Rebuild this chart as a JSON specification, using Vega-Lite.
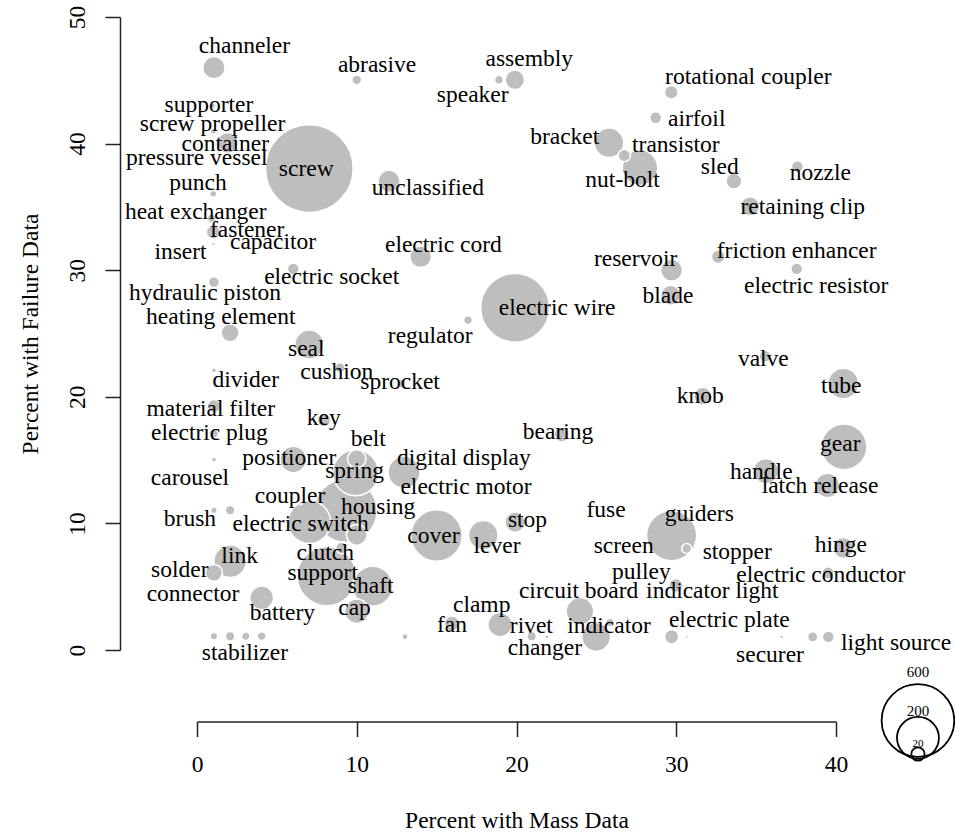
{
  "$schema": "https://vega.github.io/schema/vega-lite/v6.json",
  "width": 639,
  "height": 633,
  "autosize": {"type": "none"},
  "padding": {"left": 197, "top": 17, "right": 119, "bottom": 185},
  "background": "white",
  "config": {
    "view": {"stroke": null},
    "font": "Liberation Serif",
    "axis": {
      "grid": false,
      "domainColor": "#222222",
      "tickColor": "#222222",
      "domainWidth": 1.5,
      "tickWidth": 1.5,
      "tickSize": 15,
      "labelFont": "Liberation Serif",
      "labelFontSize": 23.5,
      "labelColor": "black",
      "titleFont": "Liberation Serif",
      "titleFontSize": 23.5,
      "titleFontWeight": "normal",
      "titleColor": "black",
      "labelFlush": false,
      "labelOverlap": false
    }
  },
  "datasets": {
    "parts": [
      {"name": "channeler", "x": 1.06, "y": 46.0, "v": 56, "lx": 2.97, "ly": 47.67},
      {"name": "abrasive", "x": 10.0, "y": 45.04, "v": 11, "lx": 11.27, "ly": 46.21},
      {"name": "speaker", "x": 18.9, "y": 45.04, "v": 9, "lx": 17.26, "ly": 43.8},
      {"name": "assembly", "x": 19.9, "y": 45.04, "v": 43, "lx": 20.8, "ly": 46.67},
      {"name": "rotational coupler", "x": 29.69, "y": 44.06, "v": 21, "lx": 34.51, "ly": 45.3},
      {"name": "airfoil", "x": 28.71, "y": 42.04, "v": 16, "lx": 31.28, "ly": 41.98},
      {"name": "bracket", "x": 25.79, "y": 40.06, "v": 99, "lx": 23.02, "ly": 40.56},
      {"name": "transistor", "x": 26.75, "y": 39.06, "v": 17.5, "lx": 29.97, "ly": 39.85},
      {"name": "nut-bolt", "x": 27.73, "y": 38.09, "v": 143, "lx": 26.64, "ly": 37.09},
      {"name": "sled", "x": 33.61, "y": 37.03, "v": 28, "lx": 32.72, "ly": 38.19},
      {"name": "nozzle", "x": 37.58, "y": 38.17, "v": 16, "lx": 39.02, "ly": 37.64},
      {"name": "retaining clip", "x": 34.62, "y": 35.05, "v": 41, "lx": 37.92, "ly": 34.99},
      {"name": "friction enhancer", "x": 32.63, "y": 31.06, "v": 21, "lx": 37.54, "ly": 31.48},
      {"name": "electric resistor", "x": 37.54, "y": 30.11, "v": 16, "lx": 38.76, "ly": 28.79},
      {"name": "reservoir", "x": 29.71, "y": 30.0, "v": 54, "lx": 27.46, "ly": 30.88},
      {"name": "blade", "x": 29.65, "y": 28.02, "v": 45, "lx": 29.48, "ly": 28.0},
      {"name": "electric wire", "x": 19.91, "y": 27.03, "v": 538, "lx": 22.54, "ly": 27.0},
      {"name": "regulator", "x": 16.96, "y": 26.05, "v": 9, "lx": 14.6, "ly": 24.84},
      {"name": "electric cord", "x": 14.0, "y": 31.06, "v": 53, "lx": 15.42, "ly": 32.03},
      {"name": "unclassified", "x": 12.02, "y": 37.03, "v": 56, "lx": 14.45, "ly": 36.53},
      {"name": "screw", "x": 7.03, "y": 38.03, "v": 875, "lx": 6.84, "ly": 38.03},
      {"name": "supporter", "x": 1.0, "y": 43.0, "v": 3, "lx": 0.75, "ly": 43.05},
      {"name": "screw propeller", "x": 1.02, "y": 40.98, "v": 4, "lx": 0.97, "ly": 41.55},
      {"name": "container", "x": 1.92, "y": 40.06, "v": 49, "lx": 1.77, "ly": 39.95},
      {"name": "pressure vessel", "x": 1.02, "y": 39.06, "v": 2.2, "lx": -0.02, "ly": 38.85},
      {"name": "punch", "x": 1.02, "y": 36.03, "v": 5.3, "lx": 0.06, "ly": 36.87},
      {"name": "heat exchanger", "x": 0.92, "y": 34.1, "v": 9, "lx": -0.08, "ly": 34.62},
      {"name": "fastener", "x": 1.02, "y": 33.0, "v": 32, "lx": 3.14, "ly": 33.16},
      {"x": 1.02, "y": 33.0, "v": 22},
      {"name": "capacitor", "x": 5.5, "y": 32.74, "v": 0.8, "lx": 4.76, "ly": 32.25},
      {"name": "insert", "x": 1.02, "y": 32.08, "v": 1.5, "lx": -1.03, "ly": 31.44},
      {"name": "electric socket", "x": 6.03, "y": 30.11, "v": 16, "lx": 8.43, "ly": 29.5},
      {"name": "hydraulic piston", "x": 1.06, "y": 29.05, "v": 13.7, "lx": 0.5, "ly": 28.22},
      {"name": "heating element", "x": 2.07, "y": 25.05, "v": 36, "lx": 1.49, "ly": 26.28},
      {"name": "seal", "x": 7.03, "y": 24.13, "v": 95, "lx": 6.84, "ly": 23.79},
      {"name": "divider", "x": 1.06, "y": 22.1, "v": 3, "lx": 3.05, "ly": 21.29},
      {"name": "cushion", "x": 8.95, "y": 22.29, "v": 12, "lx": 8.75, "ly": 21.92},
      {"name": "sprocket", "x": 12.81, "y": 21.05, "v": 8, "lx": 12.71, "ly": 21.15},
      {"name": "material filter", "x": 1.06, "y": 19.26, "v": 20, "lx": 0.86, "ly": 19.0},
      {"name": "electric plug", "x": 1.06, "y": 17.1, "v": 9, "lx": 0.78, "ly": 17.18},
      {"name": "key", "x": 7.95, "y": 18.15, "v": 20, "lx": 7.93, "ly": 18.29},
      {"name": "carousel", "x": 1.06, "y": 15.05, "v": 3, "lx": -0.44, "ly": 13.55},
      {"name": "belt", "x": 10.0, "y": 15.1, "v": 38, "lx": 10.72, "ly": 16.63},
      {"name": "spring", "x": 9.93, "y": 14.0, "v": 238, "lx": 9.86, "ly": 14.12},
      {"name": "positioner", "x": 6.03, "y": 15.05, "v": 80, "lx": 5.78, "ly": 15.13},
      {"name": "digital display", "x": 12.96, "y": 14.04, "v": 116, "lx": 16.7, "ly": 15.13},
      {"name": "electric motor", "x": 9.3, "y": 11.0, "v": 450, "lx": 16.84, "ly": 12.84},
      {"name": "coupler", "x": 6.5, "y": 11.6, "v": 1, "lx": 5.82, "ly": 12.15},
      {"name": "housing", "x": 10.0, "y": 9.1, "v": 49, "lx": 11.34, "ly": 11.26},
      {"name": "brush", "x": 1.06, "y": 11.04, "v": 5, "lx": -0.44, "ly": 10.33},
      {"x": 2.07, "y": 11.04, "v": 10},
      {"name": "electric switch", "x": 7.03, "y": 10.1, "v": 206, "lx": 6.49, "ly": 9.99},
      {"name": "cover", "x": 15.0, "y": 9.04, "v": 300, "lx": 14.8, "ly": 9.04},
      {"name": "lever", "x": 17.92, "y": 9.07, "v": 99, "lx": 18.78, "ly": 8.25},
      {"name": "stop", "x": 19.91, "y": 10.1, "v": 46, "lx": 20.69, "ly": 10.23},
      {"name": "fuse", "x": 25.6, "y": 11.0, "v": 1, "lx": 25.61, "ly": 11.02},
      {"name": "guiders", "x": 29.71, "y": 9.04, "v": 286, "lx": 31.44, "ly": 10.78},
      {"name": "screen", "x": 26.7, "y": 8.2, "v": 1, "lx": 26.71, "ly": 8.2},
      {"name": "stopper", "x": 30.65, "y": 8.02, "v": 11, "lx": 33.82, "ly": 7.72},
      {"name": "hinge", "x": 40.46, "y": 8.07, "v": 49, "lx": 40.3, "ly": 8.27},
      {"name": "electric conductor", "x": 39.5, "y": 6.1, "v": 16, "lx": 39.05, "ly": 5.9},
      {"name": "link", "x": 2.07, "y": 7.01, "v": 120, "lx": 2.67, "ly": 7.39},
      {"name": "clutch", "x": 9.05, "y": 8.07, "v": 16, "lx": 8.03, "ly": 7.68},
      {"name": "solder", "x": 1.06, "y": 6.1, "v": 32, "lx": -1.08, "ly": 6.33},
      {"name": "support", "x": 8.12, "y": 5.83, "v": 397, "lx": 7.87, "ly": 6.12},
      {"name": "shaft", "x": 11.0, "y": 5.04, "v": 181, "lx": 10.87, "ly": 5.02},
      {"name": "connector", "x": 0.5, "y": 4.5, "v": 1, "lx": -0.25, "ly": 4.46},
      {"name": "pulley", "x": 27.8, "y": 6.2, "v": 1, "lx": 27.81, "ly": 6.15},
      {"name": "circuit board", "x": 23.97, "y": 3.06, "v": 86, "lx": 23.89, "ly": 4.64},
      {"name": "indicator light", "x": 29.98, "y": 5.09, "v": 22, "lx": 32.26, "ly": 4.64},
      {"name": "battery", "x": 4.05, "y": 4.12, "v": 63, "lx": 5.35, "ly": 2.91},
      {"name": "cap", "x": 10.0, "y": 3.06, "v": 67, "lx": 9.86, "ly": 3.29},
      {"name": "clamp", "x": 18.97, "y": 2.01, "v": 67, "lx": 17.82, "ly": 3.55},
      {"name": "fan", "x": 15.96, "y": 2.09, "v": 26, "lx": 15.96, "ly": 1.94},
      {"x": 13.02, "y": 1.04, "v": 4},
      {"name": "rivet", "x": 20.95, "y": 1.09, "v": 10, "lx": 20.93, "ly": 1.86},
      {"name": "changer", "x": 21.9, "y": 1.04, "v": 2, "lx": 21.78, "ly": 0.12},
      {"name": "indicator", "x": 24.98, "y": 1.04, "v": 94, "lx": 25.79, "ly": 1.91},
      {"x": 25.85, "y": 2.17, "v": 8},
      {"name": "electric plate", "x": 29.71, "y": 1.04, "v": 23, "lx": 33.32, "ly": 2.39},
      {"x": 30.69, "y": 1.04, "v": 1},
      {"name": "securer", "x": 36.6, "y": 1.04, "v": 1.5, "lx": 35.87, "ly": -0.36},
      {"name": "light source", "x": 38.54, "y": 1.04, "v": 12, "lx": 43.76, "ly": 0.59},
      {"x": 39.52, "y": 1.04, "v": 16},
      {"name": "stabilizer", "x": 1.06, "y": 1.09, "v": 6.3, "lx": 3.0, "ly": -0.22},
      {"x": 2.07, "y": 1.09, "v": 10},
      {"x": 3.05, "y": 1.09, "v": 8.2},
      {"x": 4.05, "y": 1.09, "v": 9},
      {"name": "valve", "x": 35.56, "y": 23.2, "v": 16, "lx": 35.45, "ly": 22.95},
      {"name": "knob", "x": 31.66, "y": 20.05, "v": 36, "lx": 31.51, "ly": 20.05},
      {"name": "tube", "x": 40.46, "y": 21.05, "v": 107, "lx": 40.33, "ly": 20.89},
      {"name": "bearing", "x": 22.83, "y": 17.02, "v": 25, "lx": 22.6, "ly": 17.22},
      {"name": "gear", "x": 40.5, "y": 16.05, "v": 238, "lx": 40.27, "ly": 16.31},
      {"name": "handle", "x": 35.62, "y": 14.12, "v": 72, "lx": 35.32, "ly": 14.04},
      {"name": "latch release", "x": 39.46, "y": 13.0, "v": 67, "lx": 39.0, "ly": 12.99}
    ],
    "sizekey": [
      {"v": 600, "label": "600", "cx": 45.13, "cy": -5.57, "ty": -1.7},
      {"v": 200, "label": "200", "cx": 45.13, "cy": -6.94, "ty": -4.78},
      {"v": 20, "label": "20", "cx": 45.13, "cy": -8.22, "ty": -7.39}
    ]
  },
  "layer": [
    {
      "data": {"name": "parts"},
      "mark": {"type": "circle", "fill": "#BEBEBE", "stroke": "white", "strokeWidth": 1.5, "opacity": 1, "clip": false},
      "encoding": {
        "x": {
          "field": "x", "type": "quantitative",
          "scale": {"domain": [0, 40], "nice": false, "zero": false},
          "title": "Percent with Mass Data",
          "axis": {"values": [0, 10, 20, 30, 40], "offset": 71.5, "labelBaseline": "middle", "labelPadding": 28, "titleY": 99, "titleBaseline": "middle"}
        },
        "y": {
          "field": "y", "type": "quantitative",
          "scale": {"domain": [0, 50], "nice": false, "zero": false},
          "title": "Percent with Failure Data",
          "axis": {"values": [0, 10, 20, 30, 40, 50], "offset": 77, "labelAngle": -90, "labelAlign": "center", "labelBaseline": "middle", "labelPadding": 28, "titleX": -90, "titleAngle": -90, "titleBaseline": "middle", "titleAlign": "center"}
        },
        "size": {"field": "v", "type": "quantitative", "scale": {"type": "linear", "domain": [0, 600], "range": [0, 5278]}, "legend": null},
        "order": {"field": "v", "sort": "descending"}
      }
    },
    {
      "data": {"name": "sizekey"},
      "mark": {"type": "circle", "filled": false, "stroke": "black", "strokeWidth": 1.8, "opacity": 1, "clip": false},
      "encoding": {
        "x": {"field": "cx", "type": "quantitative", "title": "Percent with Mass Data"},
        "y": {"field": "cy", "type": "quantitative", "title": "Percent with Failure Data"},
        "size": {"field": "v", "type": "quantitative", "legend": null}
      }
    },
    {
      "data": {"name": "sizekey"},
      "mark": {"type": "text", "font": "Liberation Serif", "color": "black", "align": "center", "baseline": "middle", "clip": false},
      "encoding": {
        "x": {"field": "cx", "type": "quantitative", "title": "Percent with Mass Data"},
        "y": {"field": "ty", "type": "quantitative", "title": "Percent with Failure Data"},
        "text": {"field": "label"},
        "size": {"condition": {"test": "datum.v == 20", "value": 11}, "value": 15}
      }
    },
    {
      "data": {"name": "parts"},
      "transform": [{"filter": "isValid(datum.lx)"}],
      "mark": {"type": "text", "font": "Liberation Serif", "fontSize": 23.5, "color": "black", "align": "center", "baseline": "middle", "clip": false},
      "encoding": {
        "x": {"field": "lx", "type": "quantitative", "title": "Percent with Mass Data"},
        "y": {"field": "ly", "type": "quantitative", "title": "Percent with Failure Data"},
        "text": {"field": "name"}
      }
    }
  ]
}
